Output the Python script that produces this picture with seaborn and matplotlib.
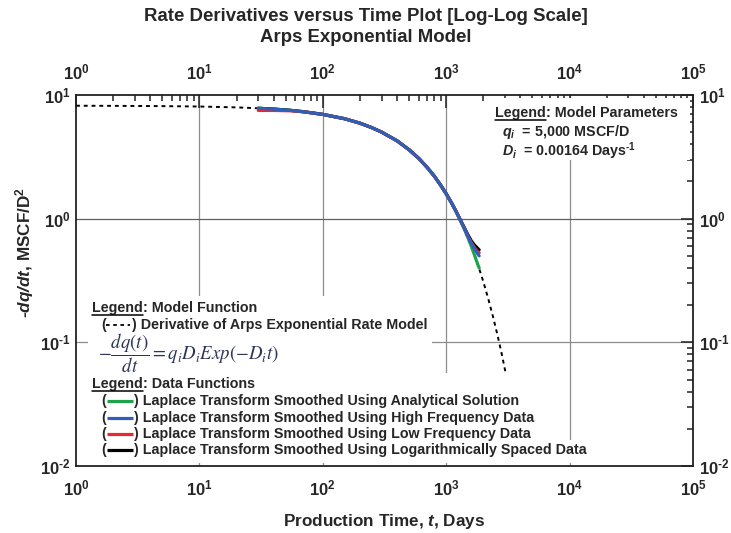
import numpy as np
import pandas as pd
import matplotlib
matplotlib.use("Agg")
import matplotlib.pyplot as plt
import seaborn as sns
from matplotlib.ticker import LogLocator, FuncFormatter, NullFormatter
from matplotlib.lines import Line2D
from matplotlib.patches import Rectangle
from matplotlib.transforms import IdentityTransform

# ---------------- data ----------------
model_t = [1, 2, 5, 10, 20, 30, 50, 70, 100, 150, 200, 250, 300, 400, 500, 600, 700, 800,
           900, 1000, 1100, 1200, 1300, 1400, 1500, 1600, 1700, 1800, 1900, 2000, 2200,
           2400, 2600, 2800, 3050]
model_y = [8.19, 8.17, 8.13, 8.07, 7.94, 7.81, 7.56, 7.32, 6.97, 6.43, 5.92, 5.44, 5.01,
           4.26, 3.61, 3.07, 2.60, 2.21, 1.87, 1.59, 1.35, 1.15, 0.972, 0.826, 0.700,
           0.595, 0.504, 0.428, 0.363, 0.309, 0.222, 0.160, 0.115, 0.083, 0.055]

curve_t = [30, 40, 55, 70, 100, 150, 200, 250, 300, 400, 500, 600, 700, 800, 900, 1000,
           1100, 1200, 1300, 1400, 1500, 1600, 1700, 1800, 1850]
green_y = [7.81, 7.69, 7.51, 7.32, 6.97, 6.43, 5.92, 5.44, 5.01, 4.26, 3.61, 3.07, 2.60,
           2.21, 1.87, 1.59, 1.35, 1.15, 0.972, 0.826, 0.700, 0.595, 0.504, 0.428, 0.40]
blue_y = [7.81, 7.69, 7.51, 7.32, 6.97, 6.43, 5.92, 5.44, 5.01, 4.26, 3.61, 3.07, 2.60,
          2.21, 1.87, 1.59, 1.35, 1.15, 0.975, 0.84, 0.72, 0.63, 0.57, 0.52, 0.50]
red_y = [7.50, 7.50, 7.45, 7.32, 6.97, 6.43, 5.92, 5.44, 5.01, 4.26, 3.61, 3.07, 2.60,
         2.21, 1.87, 1.59, 1.35, 1.15, 0.975, 0.84, 0.72, 0.64, 0.58, 0.54, 0.53]
black_y = [7.81, 7.69, 7.51, 7.32, 6.97, 6.43, 5.92, 5.44, 5.01, 4.26, 3.61, 3.07, 2.60,
           2.21, 1.87, 1.59, 1.35, 1.15, 0.98, 0.85, 0.74, 0.66, 0.61, 0.575, 0.56]

x_ticks = [1, 10, 100, 1000, 10000, 100000]
y_ticks = [0.01, 0.1, 1, 10]

data_labels = ["Laplace Transform Smoothed Using Analytical Solution",
               "Laplace Transform Smoothed Using High Frequency Data",
               "Laplace Transform Smoothed Using Low Frequency Data",
               "Laplace Transform Smoothed Using Logarithmically Spaced Data"]
data_colors = ["#1fa34a", "#2f5fb8", "#e8282e", "#000000"]

HY = "\u2010"  # short hyphen used in exponents

# ---------------- style ----------------
sns.set_theme(style="white")
FAM = ["Liberation Sans", "DejaVu Sans"]
plt.rcParams["font.family"] = FAM
plt.rcParams["mathtext.fontset"] = "custom"
plt.rcParams["mathtext.rm"] = "Liberation Sans:bold"
plt.rcParams["mathtext.bf"] = "Liberation Sans:bold"
plt.rcParams["mathtext.it"] = "Liberation Sans:italic:bold"
plt.rcParams["mathtext.bfit"] = "Liberation Sans:italic:bold"
plt.rcParams["mathtext.sf"] = "Liberation Sans:bold"

W, H = 731, 533
fig = plt.figure(figsize=(W / 100, H / 100), dpi=100)
L, R, T, B = 76, 693, 95, 466
ax = fig.add_axes([L / W, 1 - B / H, (R - L) / W, (B - T) / H])
ax.set_xscale("log")
ax.set_yscale("log")
ax.set_xlim(1, 1e5)
ax.set_ylim(1e-2, 1e1)

# grid lines (manual, beneath white legend boxes)
for xv in x_ticks[1:-1]:
    ax.axvline(xv, color="#8c8c8c", lw=0.9, zorder=0.5)
ax.axhline(1, color="#606060", lw=0.9, zorder=0.5)
ax.axhline(0.1, color="#8c8c8c", lw=0.9, zorder=0.5)

def pxbox(x0, y0, x1, y1):
    fx0 = (x0 - L) / (R - L); fx1 = (x1 - L) / (R - L)
    fy0 = (B - y1) / (B - T); fy1 = (B - y0) / (B - T)
    ax.add_patch(Rectangle((fx0, fy0), fx1 - fx0, fy1 - fy0, transform=ax.transAxes,
                           facecolor="white", edgecolor="none", zorder=1))

pxbox(88, 296, 432, 373)
pxbox(88, 373, 540, 463)
pxbox(88, 440, 592, 463)
pxbox(488, 98, 690, 160)

# model dotted curve
sns.lineplot(x=model_t, y=model_y, ax=ax, color="black", lw=1.4, linestyle=(0, (2, 2)),
             estimator=None, sort=False, zorder=2)
# data curves
order = [(0, green_y, 3), (3, black_y, 4), (2, red_y, 5), (1, blue_y, 6)]
for idx, ys, z in order:
    sns.lineplot(x=curve_t, y=ys, ax=ax, color=data_colors[idx], lw=2.3,
                 estimator=None, sort=False, zorder=z)

# ticks
ax.xaxis.set_major_locator(LogLocator(base=10, numticks=10))
ax.yaxis.set_major_locator(LogLocator(base=10, numticks=10))
ax.xaxis.set_minor_locator(LogLocator(base=10, subs=np.arange(2, 10), numticks=20))
ax.yaxis.set_minor_locator(LogLocator(base=10, subs=np.arange(2, 10), numticks=20))

def tick_fmt(v, p):
    e = int(round(np.log10(v)))
    if e < 0:
        return "$\\mathbf{10^{" + HY + str(-e) + "}}$"
    return "$\\mathbf{10^{" + str(e) + "}}$"

fmt = FuncFormatter(tick_fmt)
ax.xaxis.set_major_formatter(fmt)
ax.yaxis.set_major_formatter(fmt)
ax.xaxis.set_minor_formatter(NullFormatter())
ax.yaxis.set_minor_formatter(NullFormatter())
ax.tick_params(which="both", direction="in", top=True, right=True, labeltop=True,
               labelright=True, color="#222222", width=1.1)
ax.tick_params(which="major", length=9, labelsize=12)
ax.tick_params(axis="x", which="major", pad=9)
ax.tick_params(axis="y", which="major", pad=4)
for sp in ax.spines.values():
    sp.set_linewidth(1.3)
    sp.set_color("#222222")
ax.set_zorder(1)

ax.set_xlabel(r"Production Time, $\mathbfit{t}$, Days", fontsize=12.3, fontweight="bold")
ax.xaxis.set_label_coords(0.5, (B - 512) / (B - T))
ax.set_ylabel("$\\mathbfit{" + HY + "dq/dt}$, MSCF/D$^{\\mathbf{2}}$", fontsize=12.3,
              fontweight="bold")
ax.yaxis.set_label_coords((36 - L) / (R - L), (B - 253) / (B - T))
fig.text(0.5, 1 - 27 / H, "Rate Derivatives versus Time Plot [Log-Log Scale]\nArps Exponential Model",
         ha="center", va="center", fontsize=13.4, fontweight="bold", linespacing=1.3)

renderer = fig.canvas.get_renderer()

def fx(px):
    return (px - L) / (R - L)

def fy(py):
    return (B - py) / (B - T)

FS = 10.3

def legend_head(px, py, rest):
    t1 = ax.text(fx(px), fy(py), "Legend", transform=ax.transAxes, fontsize=FS,
                 fontweight="bold", va="baseline", ha="left", zorder=10)
    bb = t1.get_window_extent(renderer)
    xr = ax.transAxes.inverted().transform((bb.x1, 0))[0]
    ax.text(xr, fy(py), rest, transform=ax.transAxes, fontsize=FS, fontweight="bold",
            va="baseline", ha="left", zorder=10)
    yb = ax.transAxes.transform((0, fy(py)))[1] - 2.6
    fig.add_artist(Line2D([bb.x0, bb.x1], [yb, yb], transform=IdentityTransform(),
                          color="black", lw=1.1))

# parameter legend
legend_head(495, 117, ": Model Parameters")
ax.text(fx(502), fy(136), r"$\mathbfit{q_i}$  = 5,000 MSCF/D", transform=ax.transAxes,
        fontsize=FS, fontweight="bold", va="baseline", zorder=10)
ax.text(fx(502), fy(156), "$\\mathbfit{D_i}$  = 0.00164 Days$^{\\mathbf{" + HY + "1}}$",
        transform=ax.transAxes, fontsize=FS, fontweight="bold", va="baseline", zorder=10)

# model function legend
legend_head(92, 312, ": Model Function")
ax.text(fx(101), fy(329), "(", transform=ax.transAxes, fontsize=FS, fontweight="bold",
        va="baseline", zorder=10)
ax.plot([fx(106), fx(130)], [fy(324.5), fy(324.5)], transform=ax.transAxes, color="black",
        lw=1.3, linestyle=(0, (2, 2)), zorder=10, clip_on=False)
ax.text(fx(132), fy(329), ") Derivative of Arps Exponential Rate Model", transform=ax.transAxes,
        fontsize=FS, fontweight="bold", va="baseline", zorder=10)
ax.text(fx(98), fy(353), r"$-\dfrac{dq(t)}{dt}=q_iD_iExp(-D_it)$", transform=ax.transAxes,
        fontsize=13.5, va="center", ha="left", color="#2d3557", math_fontfamily="stix", zorder=10)

# data functions legend
legend_head(92, 388, ": Data Functions")
rows_py = [405, 422, 438, 454]
for lab, col, py in zip(data_labels, data_colors, rows_py):
    ax.text(fx(101), fy(py), "(", transform=ax.transAxes, fontsize=FS, fontweight="bold",
            va="baseline", zorder=10)
    ax.plot([fx(107), fx(133)], [fy(py - 4.5), fy(py - 4.5)], transform=ax.transAxes,
            color=col, lw=2.3, zorder=10, solid_capstyle="butt")
    ax.text(fx(134), fy(py), ") " + lab, transform=ax.transAxes, fontsize=FS,
            fontweight="bold", va="baseline", zorder=10)

fig.savefig("out.png", dpi=100)
